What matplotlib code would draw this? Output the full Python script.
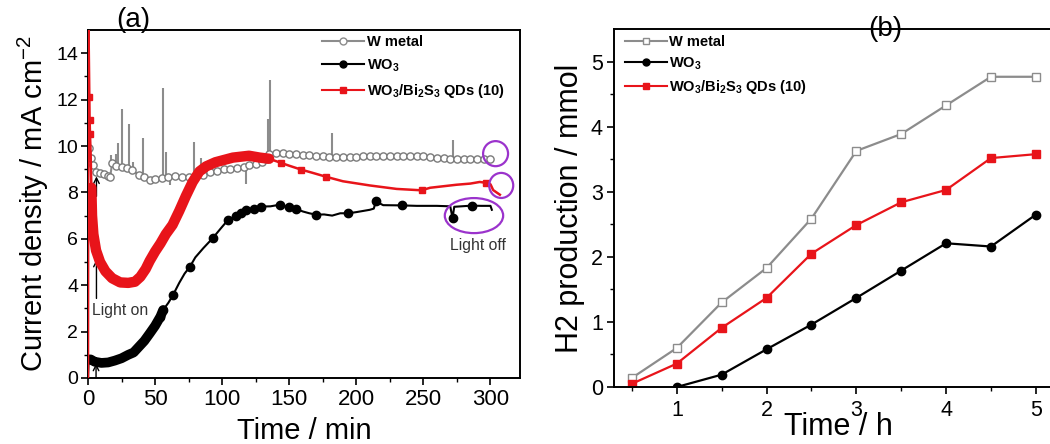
import numpy as np
import matplotlib
matplotlib.use('Agg')
import matplotlib.pyplot as plt
from matplotlib.patches import Ellipse
from matplotlib.lines import Line2D

plt.rcParams['font.family'] = ['Liberation Sans', 'DejaVu Sans']
plt.rcParams['mathtext.fontset'] = 'custom'
plt.rcParams['mathtext.rm'] = 'Liberation Sans'
plt.rcParams['mathtext.bf'] = 'Liberation Sans:bold'
plt.rcParams['mathtext.it'] = 'Liberation Sans:italic'

###### (a) photocurrent vs time ######
t_w = [1, 2, 4, 6, 9, 12, 15, 16.5, 18, 21, 25, 29, 33, 38, 42, 46, 50, 55, 60, 65,
       70, 75, 80, 86, 91, 96, 101, 106, 111, 116, 120, 125, 130, 133, 135, 140, 145,
       150, 155, 160, 165, 170, 175, 180, 185, 190, 195, 200, 205, 210, 215, 220, 225,
       230, 235, 240, 245, 250, 255, 260, 265, 270, 275, 280, 285, 290, 295, 300]
j_w = [9.9, 9.5, 9.2, 8.9, 8.84, 8.8, 8.7, 8.65, 9.27, 9.15, 9.1, 9.05, 8.95, 8.75,
       8.65, 8.55, 8.58, 8.6, 8.65, 8.7, 8.68, 8.66, 8.7, 8.77, 8.88, 8.92, 9.0, 9.02,
       9.05, 9.1, 9.18, 9.22, 9.3, 9.45, 9.65, 9.7, 9.68, 9.66, 9.65, 9.62, 9.62, 9.58,
       9.55, 9.53, 9.52, 9.52, 9.52, 9.53, 9.55, 9.55, 9.55, 9.55, 9.56, 9.58, 9.58,
       9.57, 9.56, 9.55, 9.53, 9.5, 9.5, 9.45, 9.45, 9.45, 9.46, 9.45, 9.45, 9.45]

# noise spikes on the W metal trace
spike_t = [17, 20.5, 22.5, 25.2, 30.3, 33.6, 40.8, 55.7, 58.4, 61.4, 79, 84.5, 118,
           133.8, 135.3, 148.7, 181.6, 272]
spike_base = [9.27, 9.15, 9.12, 9.1, 9.0, 8.95, 8.7, 8.6, 8.62, 8.65, 8.7, 8.75, 9.15,
              9.3, 9.4, 9.68, 9.55, 9.45]
spike_top = [9.6, 9.65, 10.14, 11.58, 10.93, 9.3, 10.35, 12.5, 9.75, 8.33, 10.18, 9.5,
             8.38, 11.15, 12.83, 9.8, 10.57, 10.28]

t_wo3 = [0, 0.5, 2, 5, 10, 15, 20, 25, 30, 34, 38, 42, 46, 50, 54, 56, 60, 63.4, 68,
         72, 76, 80, 86, 93, 99, 104, 110, 114, 118, 124, 129, 136, 143, 150, 155, 160,
         165, 170, 176, 182, 188, 194, 200, 205, 210, 213, 214.6, 220, 233.7, 245, 260,
         270, 271.7, 273, 286, 293, 300, 301]
j_wo3 = [0, 0.8, 0.8, 0.7, 0.65, 0.67, 0.75, 0.85, 1.0, 1.1, 1.35, 1.6, 1.92, 2.25,
         2.65, 2.93, 3.25, 3.58, 4.1, 4.5, 4.8, 5.2, 5.6, 6.03, 6.45, 6.79, 7.0, 7.1,
         7.22, 7.3, 7.39, 7.4, 7.47, 7.35, 7.3, 7.18, 7.1, 7.04, 7.05, 7.0, 7.1, 7.1,
         7.15, 7.2, 7.25, 7.3, 7.61, 7.45, 7.44, 7.42, 7.42, 7.4, 6.9, 7.38, 7.43,
         7.42, 7.42, 7.25]
mark_wo3 = [54, 56, 63.4, 76, 93, 104, 110, 114, 118, 124, 129, 143, 150, 155, 170,
            194, 214.6, 233.7, 271.7, 286]

t_bi = [0, 0.3, 1, 1.2, 1.5, 2, 2.5, 3, 4, 6, 9, 13, 18, 24, 30, 35, 39, 43, 46, 50,
        54, 58, 63, 68, 73, 78, 83, 88, 95, 108, 120, 128, 135, 144, 150, 159, 167,
        177.7, 190, 210, 230, 248.6, 255, 274.7, 285, 292, 297, 300, 302, 307]
j_bi = [0, 15.5, 12.1, 11.1, 10.5, 9.6, 8.2, 7.0, 6.2, 5.5, 5.0, 4.6, 4.3, 4.12, 4.1,
        4.15, 4.36, 4.7, 5.05, 5.45, 5.8, 6.2, 6.6, 7.2, 7.85, 8.45, 8.9, 9.12, 9.3,
        9.5, 9.58, 9.5, 9.45, 9.27, 9.15, 8.98, 8.85, 8.67, 8.48, 8.3, 8.15, 8.09, 8.2,
        8.33, 8.38, 8.45, 8.41, 8.35, 8.1, 7.9]
mark_bi = [1, 1.2, 1.5, 144, 159, 177.7, 248.6, 297]

###### (b) H2 evolution ######
t_h = [0.5, 1, 1.5, 2, 2.5, 3, 3.5, 4, 4.5, 5]
h2_w = [0.14, 0.60, 1.30, 1.83, 2.59, 3.63, 3.89, 4.33, 4.77, 4.77]
h2_bi = [0.05, 0.36, 0.91, 1.37, 2.05, 2.49, 2.84, 3.03, 3.52, 3.58]
t_h_wo3 = [1, 1.5, 2, 2.5, 3, 3.5, 4, 4.5, 5]
h2_wo3 = [0.0, 0.19, 0.58, 0.96, 1.37, 1.79, 2.21, 2.16, 2.65]

labels = ['W metal', r'WO$_\mathbf{3}$', r'WO$_\mathbf{3}$/Bi$_\mathbf{2}$S$_\mathbf{3}$ QDs (10)']

GRAY = '#8c8c8c'
RED = '#e8141a'
PURPLE = '#9b33cc'
W, H = 1050, 444

fig = plt.figure(figsize=(10.5, 4.44), dpi=100)
ax1 = fig.add_axes([88 / W, 1 - 378 / H, 432 / W, 348 / H])
ax2 = fig.add_axes([614 / W, 1 - 387 / H, 448.75 / W, 357.7 / H])

for ax in (ax1, ax2):
    for s in ax.spines.values():
        s.set_linewidth(1.4)
    ax.tick_params(which='major', direction='out', length=5, width=1.2)
    ax.tick_params(which='minor', direction='out', length=3, width=1.0)

###### plot (a) ######
t_bi_a = np.array(t_bi)
j_bi_a = np.array(j_bi)
t_wo3_a = np.array(t_wo3)
j_wo3_a = np.array(j_wo3)

ax1.vlines(spike_t, spike_base, spike_top, color=GRAY, lw=1.5, zorder=2)
ax1.plot(t_w, j_w, '-o', color=GRAY, lw=1.5, ms=5.2, mfc='white', mec='#7a7a7a', mew=1.0, zorder=3)

# dense sampling shows up as a thick band
dense = (t_wo3_a >= 0.5) & (t_wo3_a <= 56)
ax1.plot(t_wo3_a[dense], j_wo3_a[dense], color='black', lw=7, solid_capstyle='round', zorder=4)
ax1.plot(t_wo3_a, j_wo3_a, color='black', lw=1.5, zorder=4)
m = np.isin(t_wo3_a, mark_wo3)
ax1.plot(t_wo3_a[m], j_wo3_a[m], 'o', color='black', ms=6, zorder=4)

dense = (t_bi_a >= 2.5) & (t_bi_a <= 135)
ax1.plot(t_bi_a[dense], j_bi_a[dense], color=RED, lw=7.5, solid_capstyle='round', zorder=5)
ax1.plot(t_bi_a, j_bi_a, color=RED, lw=1.8, zorder=5)
m = np.isin(t_bi_a, mark_bi)
ax1.plot(t_bi_a[m], j_bi_a[m], 's', color=RED, ms=5, zorder=5)

ax1.set_xlim(0, 322)
ax1.set_ylim(0, 15)
ax1.set_xticks([0, 50, 100, 150, 200, 250, 300])
ax1.set_xticks(np.arange(25, 322, 50), minor=True)
ax1.set_yticks(np.arange(0, 15, 2))
ax1.set_yticks(np.arange(1, 15, 2), minor=True)
ax1.tick_params(axis='x', labelsize=16, pad=3)
ax1.tick_params(axis='y', labelsize=14, pad=2)
ax1.set_xlabel('Time / min', fontsize=21, labelpad=5)
ax1.set_ylabel(r'Current density / mA cm$^{\mathrm{-2}}$', fontsize=21, labelpad=4)

# light on / off markers
arrow = dict(arrowstyle='->', color='black', lw=1.0, shrinkA=0, shrinkB=0)
ax1.annotate('', xy=(6.3, 5.1), xytext=(6.3, 3.43), arrowprops=arrow)
ax1.annotate('', xy=(6.3, 8.69), xytext=(6.3, 7.83), arrowprops=arrow)
ax1.annotate('', xy=(6, 0.62), xytext=(6, 0.0), arrowprops=arrow)
ax1.text(23.6, 2.93, 'Light on', fontsize=11.3, color='#333333', ha='center', va='center')
ax1.text(291, 5.7, 'Light off', fontsize=11.3, color='#333333', ha='center', va='center')

for c, w_, h_ in [((303.8, 9.67), 18.6, 1.08), ((308, 8.3), 17.9, 1.08), ((287.7, 7.0), 43.5, 1.51)]:
    ax1.add_patch(Ellipse(c, w_, h_, fill=False, ec=PURPLE, lw=1.6, zorder=6, clip_on=False))

h1 = [Line2D([], [], color=GRAY, lw=1.5, marker='o', ms=5, mfc='white', mec=GRAY),
      Line2D([], [], color='black', lw=1.5, marker='o', ms=5),
      Line2D([], [], color=RED, lw=1.5, marker='s', ms=5)]
ax1.legend(h1, labels, loc='upper left', bbox_to_anchor=(0.542, 0.985), frameon=False,
           prop={'weight': 'bold', 'size': 10.5}, handlelength=2.9, handletextpad=0.15,
           labelspacing=0.55, borderpad=0, borderaxespad=0)

ax1.text(0.104, 1.03, '(a)', transform=ax1.transAxes, fontsize=20, ha='center', va='center')

###### plot (b) ######
ax2.plot(t_h, h2_w, '-s', color=GRAY, lw=1.6, ms=6, mfc='white', mec=GRAY, mew=1.0)
ax2.plot(t_h_wo3, h2_wo3, '-o', color='black', lw=1.6, ms=6)
ax2.plot(t_h, h2_bi, '-s', color=RED, lw=1.6, ms=6)

ax2.set_xlim(0.3, 5.3)
ax2.set_ylim(0, 5.5)
ax2.set_xticks([1, 2, 3, 4, 5])
ax2.set_xticks([0.5, 1.5, 2.5, 3.5, 4.5], minor=True)
ax2.set_yticks([0, 1, 2, 3, 4, 5])
ax2.set_yticks([0.5, 1.5, 2.5, 3.5, 4.5], minor=True)
ax2.tick_params(axis='both', labelsize=15.5)
ax2.tick_params(axis='x', pad=4)
ax2.tick_params(axis='y', pad=3)
ax2.set_xlabel('Time / h', fontsize=22, labelpad=-6)
ax2.set_ylabel('H2 production / mmol', fontsize=22, labelpad=4)

h2h = [Line2D([], [], color=GRAY, lw=1.5, marker='s', ms=5, mfc='white', mec=GRAY),
       Line2D([], [], color='black', lw=1.5, marker='o', ms=5),
       Line2D([], [], color=RED, lw=1.5, marker='s', ms=5)]
ax2.legend(h2h, labels, loc='upper left', bbox_to_anchor=(0.024, 0.985), frameon=False,
           prop={'weight': 'bold', 'size': 10.5}, handlelength=2.9, handletextpad=0.15,
           labelspacing=0.45, borderpad=0, borderaxespad=0)

ax2.text(0.604, 1.0, '(b)', transform=ax2.transAxes, fontsize=20, ha='center', va='center')

fig.savefig('out.png', dpi=100)
